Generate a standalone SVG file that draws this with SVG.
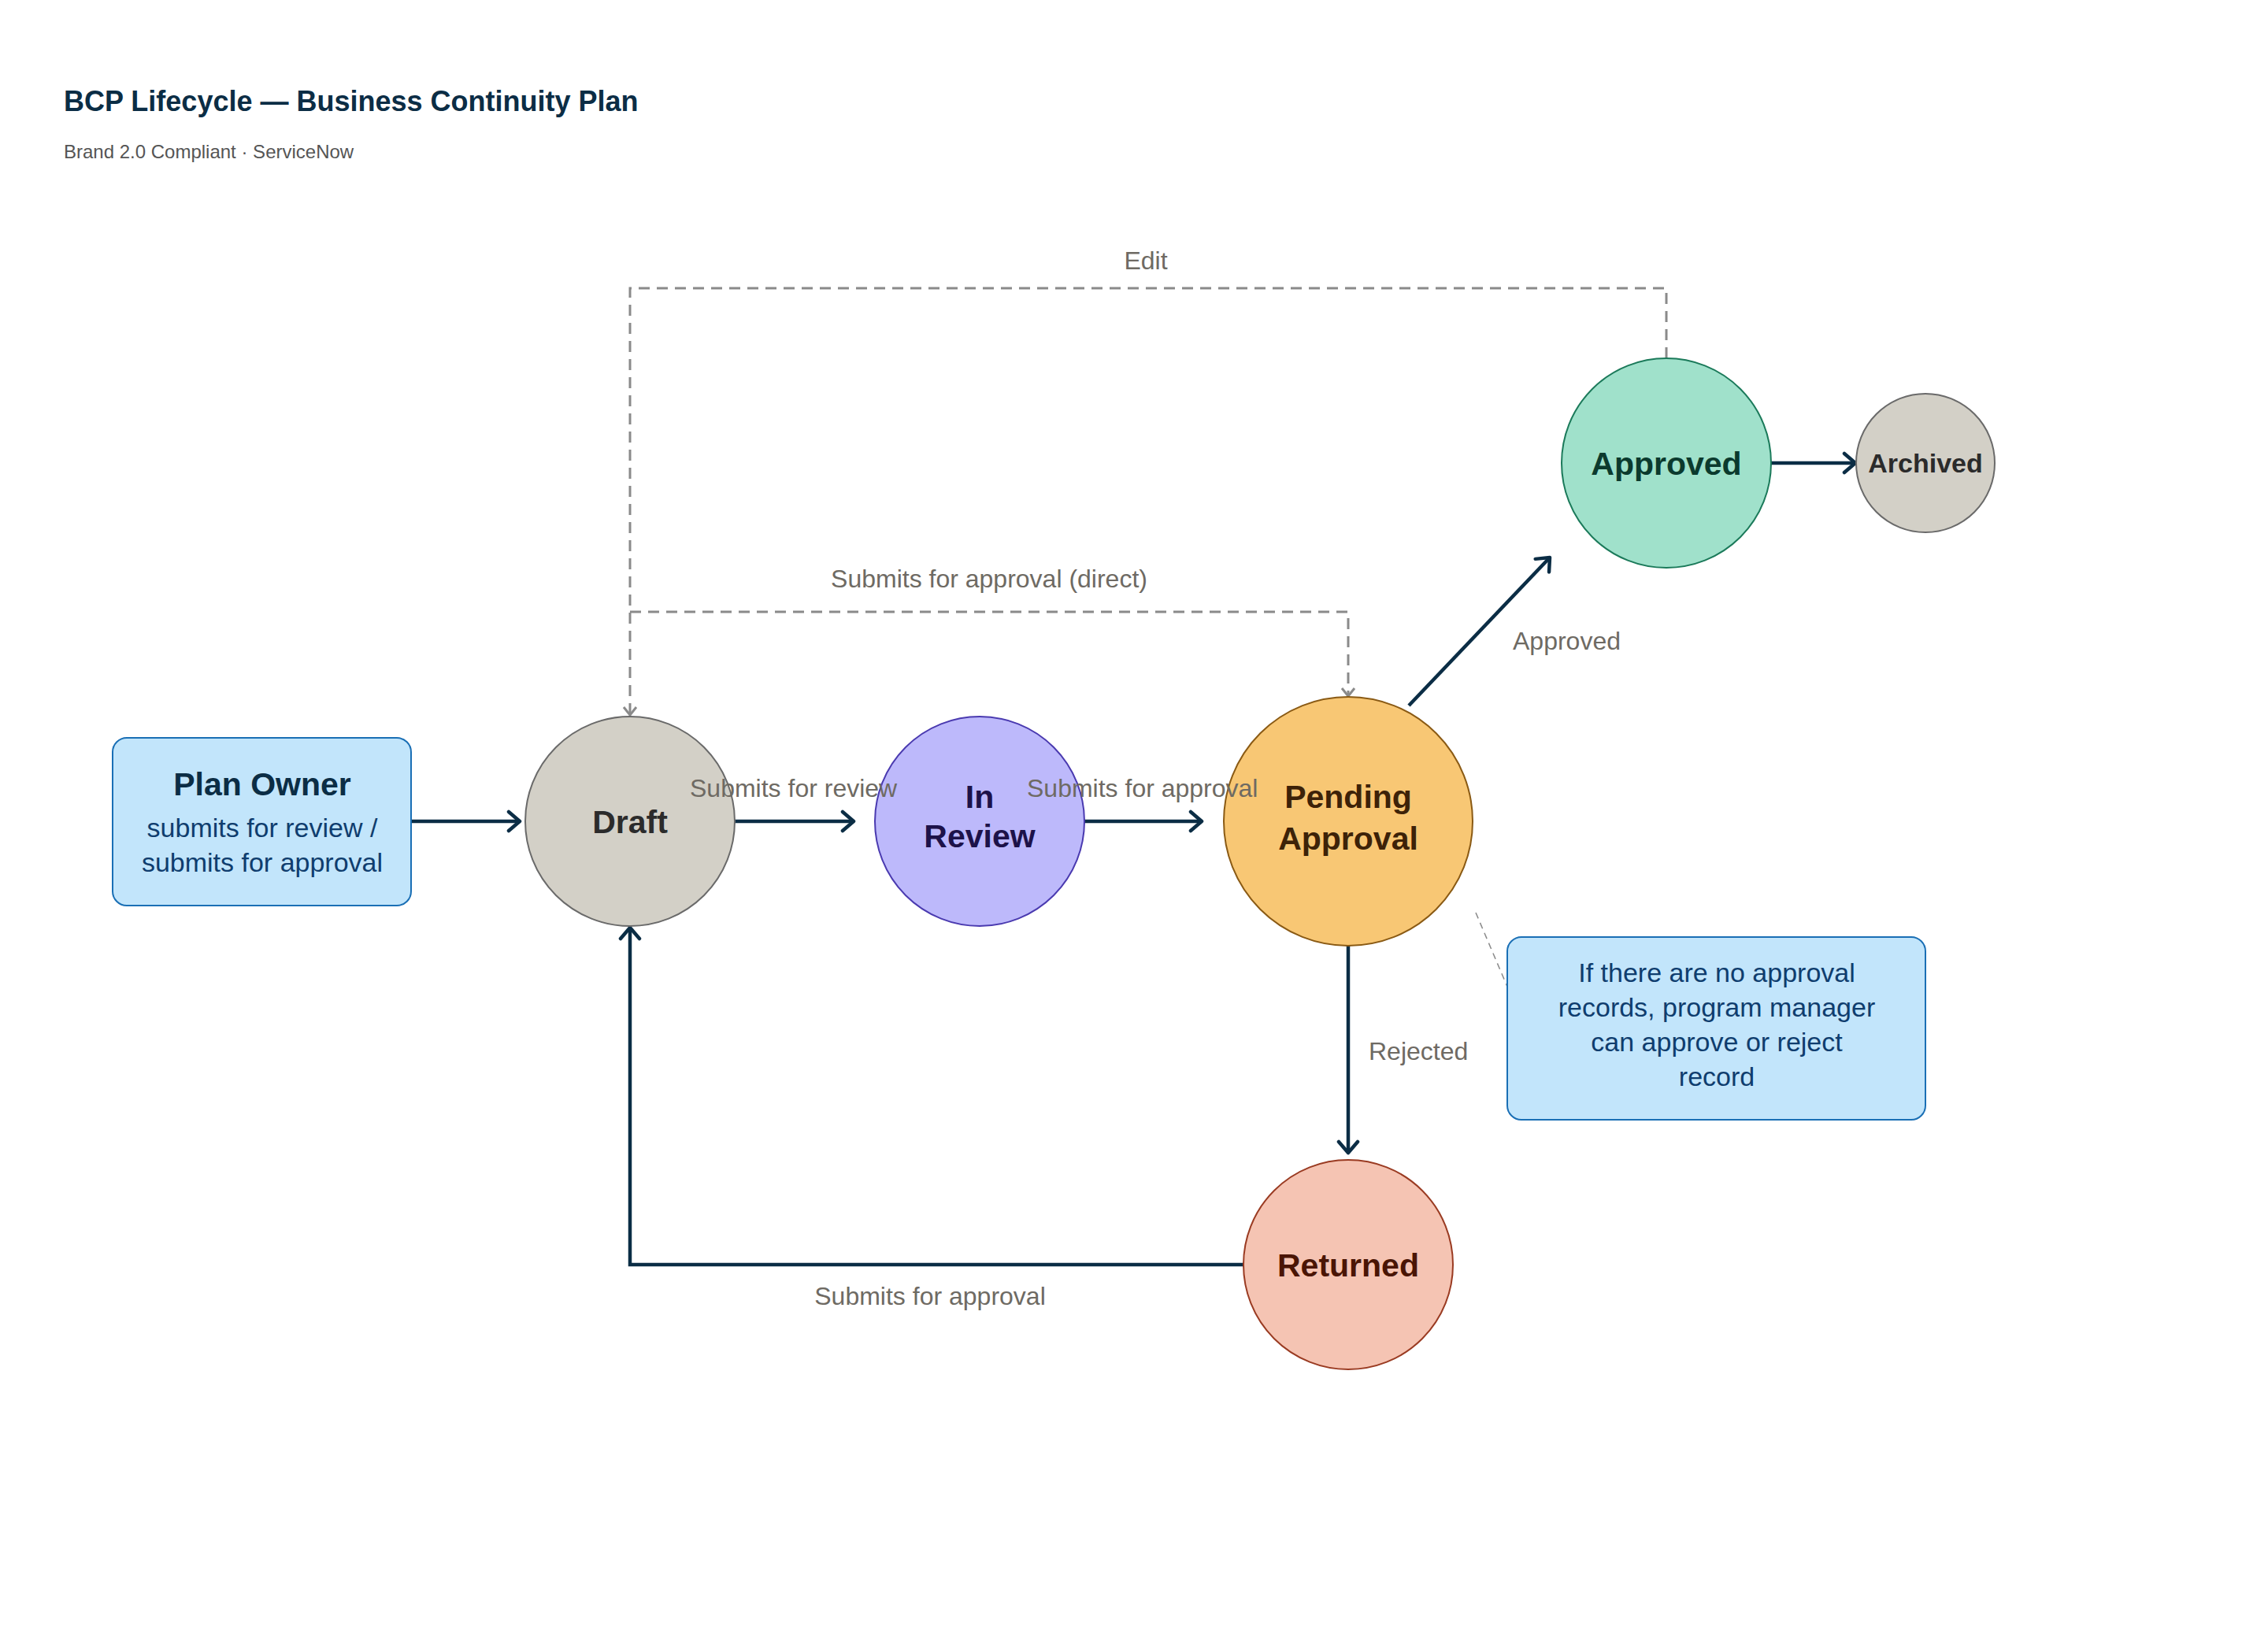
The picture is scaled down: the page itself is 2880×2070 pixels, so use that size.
<svg xmlns="http://www.w3.org/2000/svg" width="2880" height="2070" viewBox="0 0 2880 2070">
<style>
text{font-family:"Liberation Sans",Arial,sans-serif}
.t{font-size:36px;font-weight:700;fill:#0b2d45}
.st{font-size:24px;fill:#555}
.n{font-weight:700;text-anchor:middle;font-size:41px}
.lbl{font-size:32px;fill:#6e6a63}
.c{fill:none;stroke:#0b2d45;stroke-width:4.5}
.d{fill:none;stroke:#8a8a8a;stroke-width:3;stroke-dasharray:14 9}
.box{fill:#c2e5fb;stroke:#1a6fb5;stroke-width:2}
.bt{font-size:34px;fill:#0f3d6e;text-anchor:middle}
</style>
<defs>
<marker id="a" markerUnits="userSpaceOnUse" markerWidth="30" markerHeight="30" refX="26" refY="15" orient="auto"><path d="M12,3 L26,15 L12,27" fill="none" stroke="#0b2d45" stroke-width="4.5" stroke-linecap="round" stroke-linejoin="round"/></marker>
<marker id="g" markerUnits="userSpaceOnUse" markerWidth="24" markerHeight="24" refX="20" refY="12" orient="auto"><path d="M10,4 L20,12 L10,20" fill="none" stroke="#8a8a8a" stroke-width="3"/></marker>
</defs>
<text class="t" x="81" y="141">BCP Lifecycle — Business Continuity Plan</text>
<text class="st" x="81" y="201">Brand 2.0 Compliant · ServiceNow</text>
<g id="connectors">
<path class="d" d="M2116,455 V366 H800 V908" marker-end="url(#g)"/>
<path class="d" d="M800,777 H1712 V884" marker-end="url(#g)"/>
<path d="M1874,1159 L1914,1253" fill="none" stroke="#8a8a8a" stroke-width="1.5" stroke-dasharray="8 6"/>
<path class="c" d="M522,1043 H660" marker-end="url(#a)"/>
<path class="c" d="M933,1043 H1084" marker-end="url(#a)"/>
<path class="c" d="M1377,1043 H1526" marker-end="url(#a)"/>
<path class="c" d="M1789,896 L1968,708" marker-end="url(#a)"/>
<path class="c" d="M2249,588 H2356" marker-end="url(#a)"/>
<path class="c" d="M1712,1201 V1464" marker-end="url(#a)"/>
<path class="c" d="M1579,1606 H800 V1178" marker-end="url(#a)"/>
<text class="lbl" x="1455" y="342" text-anchor="middle">Edit</text>
<text class="lbl" x="1256" y="746" text-anchor="middle">Submits for approval (direct)</text>
<text class="lbl" x="1921" y="825">Approved</text>
<text class="lbl" x="1738" y="1346">Rejected</text>
<text class="lbl" x="1181" y="1657" text-anchor="middle">Submits for approval</text>
</g>
<g id="planowner">
<rect class="box" x="143" y="937" width="379" height="213" rx="18"/>
<text class="bt" x="333" y="1010" font-size="41" font-weight="700" fill="#0b2d45" style="font-size:41px;fill:#0b2d45">Plan Owner</text>
<text class="bt" x="333" y="1063">submits for review /</text>
<text class="bt" x="333" y="1107">submits for approval</text>
</g>
<g id="draft">
<circle cx="800" cy="1043" r="133" fill="#d3d0c7" stroke="#6a6a6a" stroke-width="2"/>
<text class="n" x="800" y="1058" fill="#2b2b2b">Draft</text>
</g>
<g id="inreview">
<circle cx="1244" cy="1043" r="133" fill="#bdb9fb" stroke="#4a3ab0" stroke-width="2"/>
<text class="n" x="1244" y="1026" fill="#1d1249">In</text>
<text class="n" x="1244" y="1076" fill="#1d1249">Review</text>
</g>
<g id="pending">
<circle cx="1712" cy="1043" r="158" fill="#f8c774" stroke="#8a5a14" stroke-width="2"/>
<text class="n" x="1712" y="1026" fill="#3d2208">Pending</text>
<text class="n" x="1712" y="1079" fill="#3d2208">Approval</text>
</g>
<g id="approved">
<circle cx="2116" cy="588" r="133" fill="#a0e1cb" stroke="#1b7a5a" stroke-width="2"/>
<text class="n" x="2116" y="603" fill="#0b3a2e">Approved</text>
</g>
<g id="archived">
<circle cx="2445" cy="588" r="88" fill="#d3d0c7" stroke="#6a6a6a" stroke-width="2"/>
<text class="n" x="2445" y="600" fill="#2b2b2b" style="font-size:34px">Archived</text>
</g>
<g id="returned">
<circle cx="1712" cy="1606" r="133" fill="#f5c4b3" stroke="#9a3b22" stroke-width="2"/>
<text class="n" x="1712" y="1621" fill="#4a1505">Returned</text>
</g>
<g id="note">
<rect class="box" x="1914" y="1190" width="531" height="232" rx="18"/>
<text class="bt" x="2180" y="1247">If there are no approval</text>
<text class="bt" x="2180" y="1291">records, program manager</text>
<text class="bt" x="2180" y="1335">can approve or reject</text>
<text class="bt" x="2180" y="1379">record</text>
</g>
<g id="edgelabels-mid">
<text class="lbl" x="876" y="1012">Submits for review</text>
<text class="lbl" x="1304" y="1012">Submits for approval</text>
</g>
</svg>
